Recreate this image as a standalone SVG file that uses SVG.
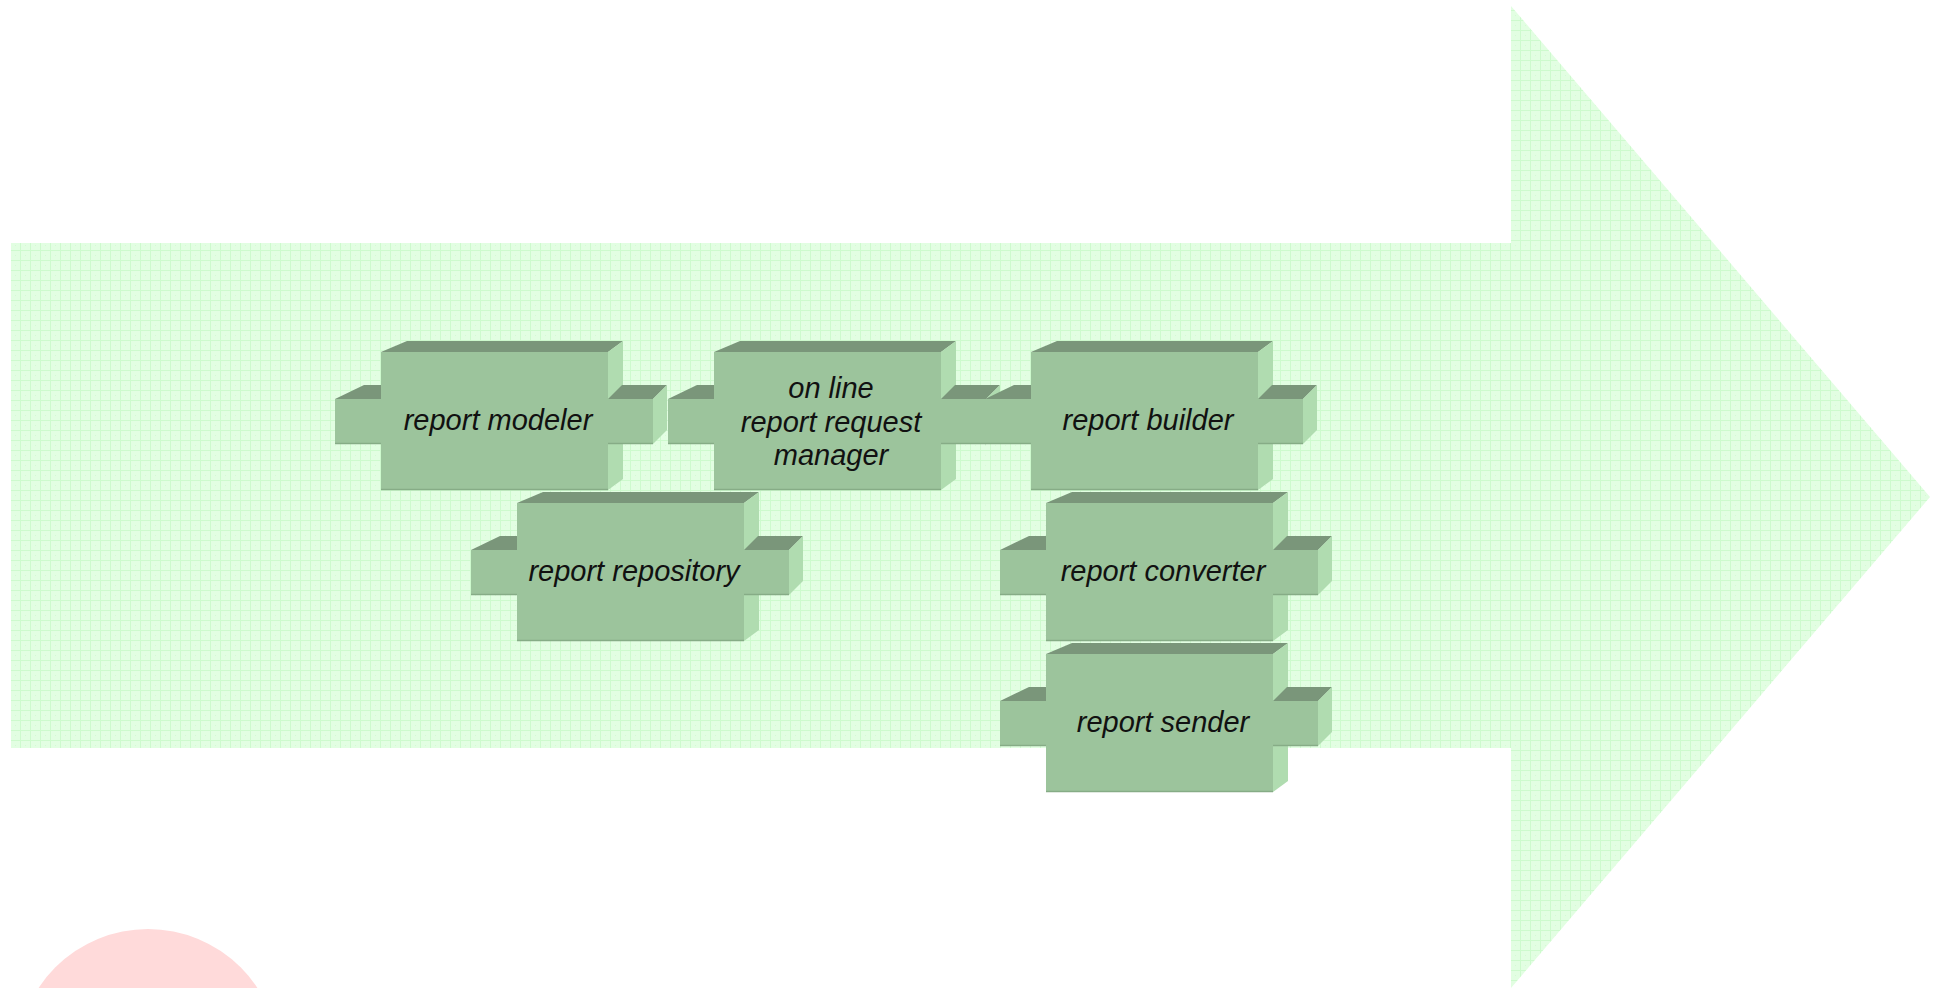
<svg xmlns="http://www.w3.org/2000/svg" xmlns:xlink="http://www.w3.org/1999/xlink" width="1939" height="988" viewBox="0 0 1939 988">
<style>
.top{fill:#7A967A}
.side{fill:#B0DCB0}
.front{fill:#9CC49C}
.edge{stroke:#86AC86;stroke-width:1.5;fill:none}
.lbl{font-family:"Liberation Sans",Arial,sans-serif;font-style:italic;font-size:29px;fill:#111;text-anchor:middle}
</style>
<defs>
<pattern id="grid" width="10" height="10" patternUnits="userSpaceOnUse">
<rect width="10" height="10" fill="#E2FEE2"/>
<rect x="0" y="0" width="10" height="1" fill="#CDFACD"/>
<rect x="0" y="0" width="1" height="10" fill="#CDFACD"/>
<rect x="5" y="5" width="1" height="1" fill="#D4FBD4"/>
</pattern>
<g id="box">
<polygon class="top" points="0,0 227,0 242,-11 26,-11"/>
<polygon class="side" points="227,0 242,-11 242,127 227,138"/>
<rect class="front" x="0" y="0" width="227" height="138"/>
<line class="edge" x1="0" y1="137.5" x2="227" y2="137.5"/>
<polygon class="top" points="-46,47 0,47 0,33 -17,33"/>
<rect class="front" x="-46" y="47" width="46" height="45"/>
<line class="edge" x1="-46" y1="91.5" x2="0" y2="91.5"/>
<polygon class="top" points="227,47 272,47 286,33 241,33"/>
<rect class="front" x="227" y="47" width="45" height="45"/>
<line class="edge" x1="227" y1="91.5" x2="272" y2="91.5"/>
<polygon class="side" points="272,47 286,33 286,78 272,92"/>
</g>
</defs>
<g id="background">
<polygon points="11,243 1511,243 1511,6 1930,497 1511,988 1511,748 11,748" fill="url(#grid)"/>
<circle cx="148" cy="1060" r="131" fill="#FFDADA"/>
</g>
<g id="connectors"></g>
<g id="node-report-modeler">
<use xlink:href="#box" x="381" y="352"/>
<text class="lbl" x="498" y="430">report modeler</text>
</g>
<g id="node-online-report-request-manager">
<use xlink:href="#box" x="714" y="352"/>
<text class="lbl" x="831" y="398">on line</text>
<text class="lbl" x="831" y="432">report request</text>
<text class="lbl" x="831" y="465">manager</text>
</g>
<g id="node-report-builder">
<use xlink:href="#box" x="1031" y="352"/>
<text class="lbl" x="1148" y="430">report builder</text>
</g>
<g id="node-report-repository">
<use xlink:href="#box" x="517" y="503"/>
<text class="lbl" x="634" y="581">report repository</text>
</g>
<g id="node-report-converter">
<use xlink:href="#box" x="1046" y="503"/>
<text class="lbl" x="1163" y="581">report converter</text>
</g>
<g id="node-report-sender">
<use xlink:href="#box" x="1046" y="654"/>
<text class="lbl" x="1163" y="732">report sender</text>
</g>
</svg>
